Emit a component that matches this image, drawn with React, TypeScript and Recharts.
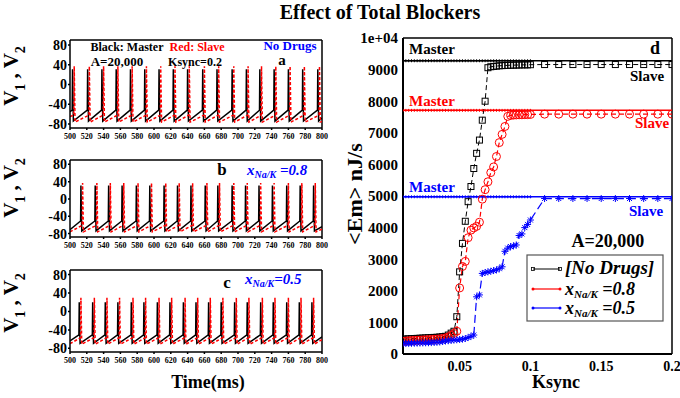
import React from 'react';
import { LineChart, Line, XAxis, YAxis, ReferenceLine } from 'recharts';

const FONT = '"Liberation Serif", "Times New Roman", serif';

// ---- panels a, b, c : membrane potential traces ----
const TIME_TICKS = [500, 520, 540, 560, 580, 600, 620, 640, 660, 680, 700, 720, 740, 760, 780, 800];
const V_TICKS = [-80, -40, 0, 40, 80];

// spike times (ms)
const masterSpikesA = [503, 521, 538, 555, 572, 589, 606, 623, 640, 658, 675, 693, 710, 726, 743, 760, 777, 795];
const slaveSpikesA = [505, 523, 540, 557, 574, 591, 608, 625, 642, 660, 677, 695, 712, 728, 745, 762, 779, 797];
const masterSpikesB = [513, 530, 546, 562, 579, 595, 612, 628, 644, 661, 676, 693, 709, 725, 741, 758, 774, 790];
const slaveSpikesB = [515, 532, 548, 564, 581, 597, 614, 630, 646, 663, 678, 695, 711, 727, 743, 760, 776, 792];
const masterSpikesC = [511, 527, 542, 557, 573, 588, 604, 619, 635, 650, 665, 680, 696, 711, 727, 742, 758, 773, 788];
const slaveSpikesC = [513, 529, 544, 559, 575, 590, 606, 621, 637, 652, 667, 682, 698, 713, 729, 744, 760, 775, 790];

// [value at 500 ms, peak, trough, pre-spike, value at 800 ms]
const masterShapeA = [-55, 31, -74, -52, -68];
const slaveShapeA = [-65, 37, -76, -62, -75];
const masterShapeB = [-71, 31, -74, -51, -64];
const slaveShapeB = [-76, 37, -76, -61, -70];
const masterShapeC = [-64, 20, -69, -51, -55];
const slaveShapeC = [-70, 30, -71, -57, -61];

// ---- panel d : <Em> vs Ksync ----
const KSYNC = [
  0.010, 0.012, 0.014, 0.016, 0.018, 0.020, 0.022, 0.024, 0.026, 0.028, 0.030, 0.032, 0.034, 0.036, 0.038, 0.040,
  0.042, 0.044, 0.046, 0.048, 0.050, 0.052, 0.054, 0.056, 0.058, 0.060, 0.062, 0.064, 0.066, 0.068, 0.070,
  0.072, 0.074, 0.076, 0.078, 0.080, 0.082, 0.084, 0.086, 0.088, 0.090, 0.092, 0.094, 0.096, 0.098, 0.100,
  0.11, 0.12, 0.13, 0.14, 0.15, 0.16, 0.17, 0.18, 0.19, 0.20,
];
const slaveNoDrugs = [
  470, 475, 480, 485, 490, 495, 500, 505, 510, 515, 520, 525, 530, 540, 550, 560,
  600, 660, 720, 1180, 2600, 3500, 4200, 4820, 5300, 5870, 6350, 6770, 7400, 8000, 9060,
  9090, 9100, 9110, 9120, 9125, 9130, 9135, 9140, 9140, 9145, 9145, 9150, 9150, 9150, 9155,
  9160, 9160, 9160, 9160, 9160, 9160, 9160, 9160, 9160, 9160,
];
const slaveX08 = [
  400, 410, 420, 425, 430, 435, 440, 445, 450, 455, 460, 465, 470, 480, 490, 510,
  540, 590, 650, 720, 2090, 2770, 2930, 3680, 3920, 3990, 4040, 4170, 4900, 5200, 5450,
  5740, 5920, 6250, 6690, 6950, 7200, 7520, 7550, 7560, 7565, 7570, 7570, 7575, 7575, 7580,
  7590, 7590, 7590, 7590, 7590, 7590, 7590, 7590, 7590, 7590,
];
const slaveX05 = [
  330, 333, 336, 339, 342, 345, 348, 351, 354, 357, 360, 365, 370, 380, 395, 410,
  420, 430, 440, 450, 460, 470, 490, 520, 560, 600, 1810, 1870, 2550, 2580, 2600,
  2620, 2640, 2660, 2700, 2760, 3250, 3350, 3400, 3420, 3450, 3750, 3800, 4000, 4100, 4240,
  4920, 4920, 4920, 4920, 4920, 4920, 4920, 4920, 4920, 4920,
];
const MASTER_NO_DRUGS = 9280;
const MASTER_X08 = 7710;
const MASTER_X05 = 4975;

const K_TICKS = [0.05, 0.1, 0.15, 0.2];
const EM_TICKS = [0, 1000, 2000, 3000, 4000, 5000, 6000, 7000, 8000, 9000, 10000];

function buildTrain(spikes: number[], shape: number[]) {
  const [startV, peak, trough, pre, endV] = shape;
  const pts = [{ t: 500, v: startV }];
  spikes.forEach((s) => {
    pts.push({ t: s - 0.4, v: pre }, { t: s, v: peak }, { t: s + 1, v: trough });
  });
  pts.push({ t: 800, v: endV });
  return pts;
}

const emRows = KSYNC.map((k, i) => ({
  k,
  bm: MASTER_NO_DRUGS,
  bs: slaveNoDrugs[i],
  rm: MASTER_X08,
  rs: slaveX08[i],
  um: MASTER_X05,
  us: slaveX05[i],
}));

const tickStyle = { fontFamily: FONT, fontWeight: 700, fill: '#000' };

function SpikePanel({ top, plotH, master, slave }: any) {
  return (
    <div style={{ position: 'absolute', left: 0, top: top - 6 }}>
      <LineChart width={330} height={6 + plotH + 20} margin={{ top: 6, right: 8, bottom: 0, left: 0 }}>
        <XAxis
          type="number"
          dataKey="t"
          domain={[500, 800]}
          ticks={TIME_TICKS}
          interval={0}
          allowDataOverflow
          height={20}
          tickSize={2}
          tickMargin={3}
          tick={{ ...tickStyle, fontSize: 8 }}
          stroke="#000"
          strokeWidth={1.5}
        />
        <YAxis
          type="number"
          domain={[-88, 90]}
          ticks={V_TICKS}
          interval={0}
          allowDataOverflow
          width={70}
          tickSize={2}
          tickMargin={1}
          tick={{ ...tickStyle, fontSize: 14 }}
          stroke="#000"
          strokeWidth={1.5}
        />
        <ReferenceLine y={90} stroke="#000" strokeWidth={1.5} />
        <ReferenceLine x={800} stroke="#000" strokeWidth={1.5} />
        <Line data={master} dataKey="v" stroke="#000" strokeWidth={1.5} dot={false} isAnimationActive={false} />
        <Line
          data={slave}
          dataKey="v"
          stroke="#ff0000"
          strokeWidth={1.5}
          strokeDasharray="3 2"
          dot={false}
          isAnimationActive={false}
        />
      </LineChart>
    </div>
  );
}

const masterDot = (color: string) => (p: any) => {
  if (p.payload.k > 0.1001) return <g key={`m${color}${p.index}`} />;
  return (
    <g key={`m${color}${p.index}`} stroke={color} strokeWidth={1}>
      <line x1={p.cx - 1.5} y1={p.cy} x2={p.cx + 1.5} y2={p.cy} />
      <line x1={p.cx} y1={p.cy - 1.5} x2={p.cx} y2={p.cy + 1.5} />
    </g>
  );
};

const squareDot = (p: any) => (
  <rect key={`sq${p.index}`} x={p.cx - 3} y={p.cy - 3} width={6} height={6} fill="none" stroke="#000" strokeWidth={1} />
);
const circleDot = (p: any) => (
  <circle key={`ci${p.index}`} cx={p.cx} cy={p.cy} r={4} fill="none" stroke="#ff0000" strokeWidth={1} />
);
const starDot = (p: any) => (
  <g key={`st${p.index}`} stroke="#0000ff" strokeWidth={1}>
    <line x1={p.cx - 3.5} y1={p.cy} x2={p.cx + 3.5} y2={p.cy} />
    <line x1={p.cx} y1={p.cy - 3.5} x2={p.cx} y2={p.cy + 3.5} />
    <line x1={p.cx - 2.5} y1={p.cy - 2.5} x2={p.cx + 2.5} y2={p.cy + 2.5} />
    <line x1={p.cx - 2.5} y1={p.cy + 2.5} x2={p.cx + 2.5} y2={p.cy - 2.5} />
  </g>
);

function EmPanel() {
  return (
    <div style={{ position: 'absolute', left: 340, top: 28 }}>
      <LineChart width={340} height={10 + 316 + 24} data={emRows} margin={{ top: 10, right: 8, bottom: 0, left: 0 }}>
        <XAxis
          type="number"
          dataKey="k"
          domain={[0.01, 0.2]}
          ticks={K_TICKS}
          interval={0}
          allowDataOverflow
          height={24}
          tickLine={false}
          tickSize={3}
          tickMargin={4}
          tick={{ ...tickStyle, fontSize: 14 }}
          stroke="#000"
          strokeWidth={2}
        />
        <YAxis
          type="number"
          domain={[0, 10000]}
          ticks={EM_TICKS}
          interval={0}
          width={63}
          tickLine={false}
          tickSize={3}
          tickMargin={2}
          tickFormatter={(v: number) => (v === 10000 ? '1e+04' : String(v))}
          tick={{ ...tickStyle, fontSize: 15 }}
          stroke="#000"
          strokeWidth={2}
        />
        <ReferenceLine y={10000} stroke="#000" strokeWidth={1.5} />
        <ReferenceLine x={0.2} stroke="#000" strokeWidth={1.5} />
        <Line dataKey="bm" stroke="#000" strokeWidth={1.5} dot={masterDot('#000')} isAnimationActive={false} />
        <Line dataKey="rm" stroke="#ff0000" strokeWidth={1.5} dot={masterDot('#ff0000')} isAnimationActive={false} />
        <Line dataKey="um" stroke="#0000ff" strokeWidth={1.5} dot={masterDot('#0000ff')} isAnimationActive={false} />
        <Line dataKey="bs" stroke="#000" strokeWidth={1} strokeDasharray="5 3" dot={squareDot} isAnimationActive={false} />
        <Line dataKey="rs" stroke="#ff0000" strokeWidth={1.2} strokeDasharray="5 3" dot={circleDot} isAnimationActive={false} />
        <Line dataKey="us" stroke="#0000ff" strokeWidth={1.2} strokeDasharray="8 4" dot={starDot} isAnimationActive={false} />
      </LineChart>
    </div>
  );
}

function VLabel({ cy }: { cy: number }) {
  return (
    <text transform={`translate(18, ${cy}) rotate(-90)`} textAnchor="middle" fontSize={21}>
      V<tspan dy={7} fontSize={14}>1</tspan>
      <tspan dy={-7}> , V</tspan>
      <tspan dy={7} fontSize={14}>2</tspan>
    </text>
  );
}

function Overlay() {
  return (
    <svg
      width={680}
      height={398}
      style={{ position: 'absolute', left: 0, top: 0, pointerEvents: 'none' }}
      fontFamily={FONT}
      fontWeight="bold"
    >
      <text x={380} y={19} fontSize={20} textAnchor="middle">Effect of Total Blockers</text>

      {/* panel a */}
      <text x={127} y={51} fontSize={12} textAnchor="middle">Black: Master</text>
      <text x={197} y={51} fontSize={12} textAnchor="middle" fill="#ff0000">Red: Slave</text>
      <text x={290} y={50} fontSize={13} textAnchor="middle" fill="#0000ff">No Drugs</text>
      <text x={117} y={66} fontSize={13} textAnchor="middle">A=20,000</text>
      <text x={195} y={66} fontSize={12} textAnchor="middle">Ksync=0.2</text>
      <text x={282} y={65} fontSize={15} textAnchor="middle">a</text>

      {/* panel b */}
      <text x={222} y={175} fontSize={17} textAnchor="middle">b</text>
      <text x={247} y={175} fontSize={15} fontStyle="italic" fill="#0000ff">
        x<tspan dy={3} fontSize={10}>Na/K</tspan>
        <tspan dy={-3}> =0.8</tspan>
      </text>

      {/* panel c */}
      <text x={227} y={288} fontSize={17} textAnchor="middle">c</text>
      <text x={245} y={284} fontSize={15} fontStyle="italic" fill="#0000ff">
        x<tspan dy={3} fontSize={10}>Na/K</tspan>
        <tspan dy={-3}>=0.5</tspan>
      </text>

      <VLabel cy={76} />
      <VLabel cy={188} />
      <VLabel cy={303} />
      <text x={208} y={388} fontSize={18} textAnchor="middle">Time(ms)</text>

      {/* panel d */}
      <text transform="translate(362, 194) rotate(-90)" textAnchor="middle" fontSize={22}>
        {'<Em> nJ/s'}
      </text>
      <text x={556} y={388} fontSize={18} textAnchor="middle">Ksync</text>
      <text x={432} y={54} fontSize={15} textAnchor="middle">Master</text>
      <text x={655} y={54} fontSize={18} textAnchor="middle">d</text>
      <text x={647} y={81} fontSize={15} textAnchor="middle">Slave</text>
      <text x={432} y={106} fontSize={15} textAnchor="middle" fill="#ff0000">Master</text>
      <text x={652} y={128} fontSize={15} textAnchor="middle" fill="#ff0000">Slave</text>
      <text x={432} y={192} fontSize={15} textAnchor="middle" fill="#0000ff">Master</text>
      <text x={646} y={216} fontSize={15} textAnchor="middle" fill="#0000ff">Slave</text>
      <text x={608} y={247} fontSize={18} textAnchor="middle">A=20,000</text>

      {/* legend */}
      <rect x={527} y={255} width={136} height={66} fill="#fff" stroke="#555" strokeWidth={1.2} />
      <line x1={533} y1={269} x2={560} y2={269} stroke="#000" strokeWidth={1} />
      <rect x={531.5} y={267.5} width={3} height={3} fill="none" stroke="#000" strokeWidth={0.8} />
      <rect x={558.5} y={267.5} width={3} height={3} fill="none" stroke="#000" strokeWidth={0.8} />
      <text x={565} y={274} fontSize={19} fontStyle="italic">[No Drugs]</text>
      <line x1={533} y1={289} x2={560} y2={289} stroke="#ff0000" strokeWidth={1.2} />
      <circle cx={533} cy={289} r={1.5} fill="#ff0000" />
      <circle cx={560} cy={289} r={1.5} fill="#ff0000" />
      <text x={565} y={295} fontSize={18} fontStyle="italic">
        x<tspan dy={3} fontSize={11}>Na/K</tspan>
        <tspan dy={-3}> =0.8</tspan>
      </text>
      <line x1={533} y1={308} x2={560} y2={308} stroke="#0000ff" strokeWidth={1.2} />
      <circle cx={533} cy={308} r={1.5} fill="#0000ff" />
      <circle cx={560} cy={308} r={1.5} fill="#0000ff" />
      <text x={565} y={314} fontSize={18} fontStyle="italic">
        x<tspan dy={3} fontSize={11}>Na/K</tspan>
        <tspan dy={-3}> =0.5</tspan>
      </text>
    </svg>
  );
}

export default function App() {
  return (
    <div
      style={{
        position: 'absolute',
        left: 0,
        top: 0,
        width: 680,
        height: 398,
        background: '#fff',
        overflow: 'hidden',
      }}
    >
      <SpikePanel top={40} plotH={88} master={buildTrain(masterSpikesA, masterShapeA)} slave={buildTrain(slaveSpikesA, slaveShapeA)} />
      <SpikePanel top={160} plotH={77} master={buildTrain(masterSpikesB, masterShapeB)} slave={buildTrain(slaveSpikesB, slaveShapeB)} />
      <SpikePanel top={270} plotH={82} master={buildTrain(masterSpikesC, masterShapeC)} slave={buildTrain(slaveSpikesC, slaveShapeC)} />
      <EmPanel />
      <Overlay />
    </div>
  );
}
